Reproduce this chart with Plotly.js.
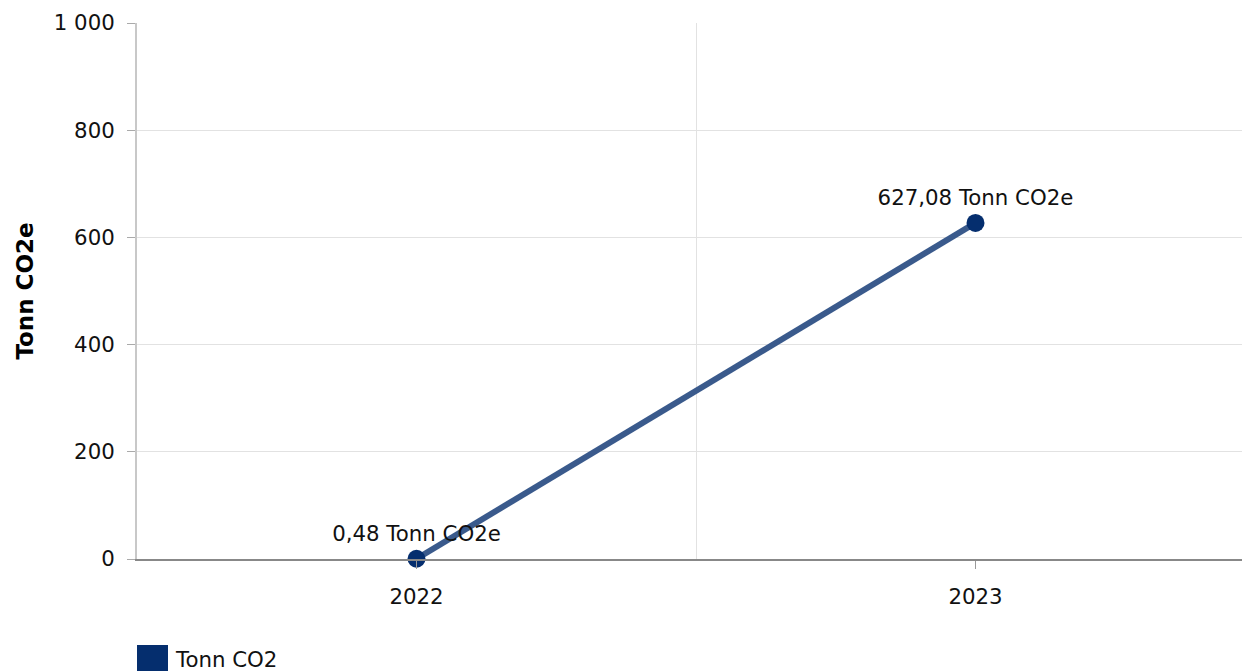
<!DOCTYPE html>
<html>
<head>
<meta charset="utf-8">
<script src="https://cdn.plot.ly/plotly-3.0.1.min.js"></script>
<style>
html,body{margin:0;padding:0;background:#fff;overflow:hidden;}
#chart{width:1242px;height:671px;}
</style>
</head>
<body>
<div id="chart"></div>
<script>
const years = ['2022', '2023'];
const values = [0.48, 627.08];
const unit = 'Tonn CO2e';
const seriesName = 'Tonn CO2';
const yTitle = 'Tonn CO2e';
const yTicks = [0, 200, 400, 600, 800, 1000];
const yTickText = ['0', '200', '400', '600', '800', '1 000'];

const xIdx = years.map((_, i) => i);
const labels = values.map(v => v.toFixed(2).replace('.', ',') + ' ' + unit);

const FONT = 'DejaVu Sans, Verdana, sans-serif';
const FS = 21.3;
const W = 1242, H = 671, L = 137, T = 23, B = 112;

const trace = {
  x: xIdx,
  y: values,
  type: 'scatter',
  mode: 'lines+markers+text',
  text: labels,
  textposition: 'top center',
  textfont: {family: FONT, size: FS, color: '#111'},
  line: {color: '#3a5a8c', width: 6},
  marker: {color: '#052e6e', size: 18},
  cliponaxis: false,
  showlegend: false,
  hoverinfo: 'skip'
};

const plotW = W - L;
const layout = {
  width: W, height: H,
  margin: {l: L, r: 0, t: T, b: B},
  paper_bgcolor: '#fff',
  plot_bgcolor: '#fff',
  font: {family: FONT, size: FS, color: '#111'},
  showlegend: false,
  xaxis: {
    range: [-0.5, -0.5 + plotW / 559],
    tickmode: 'array',
    tickvals: xIdx,
    ticktext: years,
    ticks: 'outside',
    ticklen: 8,
    tickcolor: '#999',
    tickwidth: 1,
    ticklabelstandoff: 9,
    showgrid: false,
    zeroline: false,
    showline: true,
    linecolor: '#888',
    linewidth: 2,
    minor: {tickmode: 'array', tickvals: [0.5], showgrid: true, gridcolor: '#e2e2e2', gridwidth: 1, ticks: ''},
    fixedrange: true
  },
  yaxis: {
    range: [0, 1000],
    tickmode: 'array',
    tickvals: yTicks,
    ticktext: yTickText,
    ticks: 'outside',
    ticklen: 8,
    tickcolor: '#aaa',
    ticklabelstandoff: 8,
    showgrid: true,
    gridcolor: '#e2e2e2',
    gridwidth: 1,
    zeroline: false,
    showline: true,
    linecolor: '#c8c8c8',
    linewidth: 2,
    title: {text: yTitle, font: {family: FONT, size: 23, color: '#000', weight: 'bold'}, standoff: 14},
    automargin: false,
    fixedrange: true
  },
  shapes: [{
    type: 'rect', xref: 'paper', yref: 'paper',
    x0: 0, x1: 31 / plotW,
    y0: -(645 - (H - B)) / (H - T - B) - 31 / (H - T - B), y1: -(645 - (H - B)) / (H - T - B),
    fillcolor: '#052e6e', line: {width: 0}
  }],
  annotations: [{
    xref: 'paper', yref: 'paper',
    x: 36 / plotW, y: -(659 - (H - B)) / (H - T - B),
    xanchor: 'left', yanchor: 'middle',
    text: seriesName, showarrow: false,
    font: {family: FONT, size: FS, color: '#111'}
  }]
};

Plotly.newPlot('chart', [trace], layout, {displayModeBar: false, staticPlot: true});
</script>
</body>
</html>
